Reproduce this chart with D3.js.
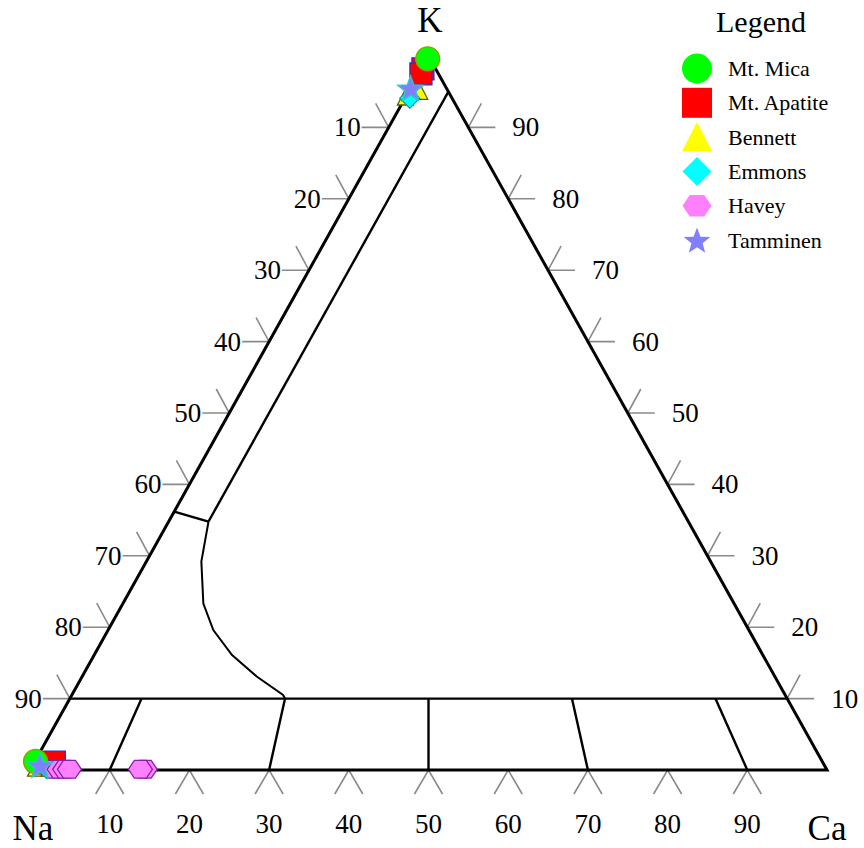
<html><head>
<title>Feldspar ternary - K Na Ca</title>
<script src="https://d3js.org/d3.v7.min.js"></script>
<style>
  body { margin: 0; background: #fff; }
  text { font-family: "Liberation Serif", "Times New Roman", serif; fill: #000; }
  .tick-line { stroke: #8a8a8a; stroke-width: 1.6px; fill: none; }
  .frame { stroke: #000; stroke-width: 3px; fill: none; }
  .field { stroke: #000; stroke-width: 2.4px; fill: none; }
</style>
</head>
<body>
<svg id="ternary" width="864" height="848"></svg>

<script>

  // ---- data (percent Na, K, Ca) ----
  const seriesNames = ["Mt. Mica", "Mt. Apatite", "Bennett", "Emmons", "Havey", "Tamminen"];
  const seriesFill = ["#00ff00", "#ff0000", "#ffff00", "#00ffff", "#ff80ff", "#8080ff"];
  const seriesStroke = ["#9a9a00", "#3030c0", "#5a5a00", "#00a0a0", "#8a20a8", "#30c8c8"];
  const seriesShape = ["circle", "square", "triangle", "diamond", "hexagon", "star"];

  // [Na, K, Ca]
  const mtMica = [[0.3, 99.6, 0.1], [98.7, 1.2, 0.1]];
  const mtApatite = [[1.6, 98.2, 0.2], [2.2, 97.5, 0.3], [97.6, 1.0, 1.4], [96.4, 1.1, 2.5]];
  const bennett = [[3.6, 95.0, 1.4], [5.8, 94.2, 0.0], [99.2, 0.2, 0.6], [97.5, 0.2, 2.3], [96.0, 0.1, 3.9]];
  const emmons = [[5.3, 94.1, 0.6], [97.8, 0.2, 2.0]];
  const havey = [[96.9, 0.1, 3.0], [96.3, 0.1, 3.6], [95.6, 0.1, 4.3], [85.5, 0.1, 14.4], [95.0, 0.1, 4.9], [86.1, 0.1, 13.8]];
  const tamminen = [[4.5, 95.5, 0.0], [98.4, 0.7, 0.9]];

  // drawing order (back to front) : index into the series arrays
  const seriesPoints = [mtMica, mtApatite, bennett, emmons, havey, tamminen];
  const drawOrder = [2, 3, 1, 4, 0, 5];

  // tick labels
  const tickValues = [10, 20, 30, 40, 50, 60, 70, 80, 90];
  const plagDivisions = [10, 30, 50, 70, 90];   // An content of plagioclase field lines

  // boundary of the alkali feldspar field  [Ca, K]
  const solvusLine = [[5, 95], [5, 34.8]];
  const solvusCap = [[0, 36.2], [5, 34.8]];
  const solvusCurve = [[5.0, 34.8], [6.9, 29.2], [10.1, 23.3], [13.2, 19.6], [17.3, 16.1], [21.9, 13.1], [26.5, 10.5], [27.0, 10.0]];


  // ---- svg and scales ----
  const svg = d3.select("svg#ternary");

  // x runs along the base (Ca + K/2), y follows K
  const xScale = d3.scaleLinear().domain([0, 100]).range([30, 827]);
  const yScale = d3.scaleLinear().domain([0, 100]).range([770, 56]);

  // ternary -> screen
  const px = (ca, k) => xScale(ca + k / 2);
  const py = (k) => yScale(k);

  const line = d3.line().x(d => px(d[0], d[1])).y(d => py(d[1]));


  // ---- ticks (grey) ----
  let ticks = svg.append("g");

  tickValues.forEach(v => {
    // left edge (Ca = 0), label v at K = 100 - v
    let kl = 100 - v;
    let xl = px(0, kl), yl = py(kl);
    ticks.append("path").attr("class", "tick-line")
      .attr("d", "M" + (xl - 27) + "," + yl + "L" + xl + "," + yl + "L" + (xl - 13) + "," + (yl - 24));
    ticks.append("text")
      .attr("x", xl - 28).attr("y", yl + 9)
      .attr("text-anchor", "end")
      .style("font-size", "27px")
      .text(v);

    // right edge (Na = 0), label v at K = v
    let xr = px(100 - v, v), yr = py(v);
    ticks.append("path").attr("class", "tick-line")
      .attr("d", "M" + (xr + 27) + "," + yr + "L" + xr + "," + yr + "L" + (xr + 13) + "," + (yr - 24));
    ticks.append("text")
      .attr("x", xr + 44).attr("y", yr + 9)
      .style("font-size", "27px")
      .text(v);

    // base (K = 0), label v at Ca = v
    let xb = px(v, 0), yb = py(0);
    ticks.append("path").attr("class", "tick-line")
      .attr("d", "M" + (xb - 14) + "," + (yb + 24) + "L" + xb + "," + yb + "L" + (xb + 14) + "," + (yb + 24));
    ticks.append("text")
      .attr("x", xb).attr("y", yb + 63)
      .attr("text-anchor", "middle")
      .style("font-size", "27px")
      .text(v);
  });


  // ---- triangle and field boundaries ----
  let fields = svg.append("g");

  // K = 10 line across
  fields.append("path").attr("class", "field")
    .attr("d", line([[0, 10], [90, 10]]));

  // plagioclase divisions : constant An/(An+Ab) from base up to K = 10
  plagDivisions.forEach(v => {
    fields.append("path").attr("class", "field")
      .attr("d", line([[v, 0], [v * 0.9, 10]]));
  });

  fields.append("path").attr("class", "field").attr("d", line(solvusLine));
  fields.append("path").attr("class", "field").attr("d", line(solvusCap));
  fields.append("path").attr("class", "field").style("stroke-width", "2px").attr("d", line(solvusCurve));

  svg.append("path").attr("class", "frame")
    .attr("stroke-linejoin", "miter")
    .attr("d", line([[0, 0], [100, 0], [0, 100]]) + "Z");


  // ---- corner labels ----
  svg.append("text").attr("x", 430).attr("y", 32).attr("text-anchor", "middle")
    .style("font-size", "35px").text("K");
  svg.append("text").attr("x", 33).attr("y", 840).attr("text-anchor", "middle")
    .style("font-size", "35px").text("Na");
  svg.append("text").attr("x", 827).attr("y", 840).attr("text-anchor", "middle")
    .style("font-size", "35px").text("Ca");


  // ---- marker shapes (size = half width) ----
  const shapes = {
    circle: { draw(c, r) { c.moveTo(r, 0); c.arc(0, 0, r, 0, 2 * Math.PI); } },
    square: { draw(c, r) { c.rect(-r, -r, 2 * r, 2 * r); } },
    triangle: { draw(c, r) { c.moveTo(0, -r); c.lineTo(r, r * 0.95); c.lineTo(-r, r * 0.95); c.closePath(); } },
    diamond: { draw(c, r) { c.moveTo(0, -r); c.lineTo(r, 0); c.lineTo(0, r); c.lineTo(-r, 0); c.closePath(); } },
    hexagon: { draw(c, r) {
      for (let i = 0; i < 6; i++) {
        let a = i * Math.PI / 3;
        if (i == 0) c.moveTo(r * Math.cos(a), r * Math.sin(a) * 0.86);
        else c.lineTo(r * Math.cos(a), r * Math.sin(a) * 0.86);
      }
      c.closePath();
    } },
    star: { draw(c, r) {
      for (let i = 0; i < 10; i++) {
        let a = -Math.PI / 2 + i * Math.PI / 5;
        let rr = (i % 2 == 0) ? r : r * 0.42;
        if (i == 0) c.moveTo(rr * Math.cos(a), rr * Math.sin(a) + r * 0.1);
        else c.lineTo(rr * Math.cos(a), rr * Math.sin(a) + r * 0.1);
      }
      c.closePath();
    } }
  };
  const chartSize = { circle: 12, square: 11, triangle: 8, diamond: 10, hexagon: 12, star: 13.5 };
  const legendSize = { circle: 15, square: 15, triangle: 15, diamond: 14.5, hexagon: 14.5, star: 14 };


  // ---- points ----
  let points = svg.append("g");
  drawOrder.forEach(s => {
    let shape = seriesShape[s];
    let sym = d3.symbol().type(shapes[shape]).size(chartSize[shape]);
    seriesPoints[s].forEach(d => {
      points.append("path")
        .attr("d", sym())
        .attr("transform", "translate(" + px(d[2], d[1]) + "," + py(d[1]) + ")")
        .style("fill", seriesFill[s])
        .style("stroke", seriesStroke[s])
        .style("stroke-width", "1.3px");
    });
  });


  // ---- legend ----
  let legend = svg.append("g");
  legend.append("text").attr("x", 761).attr("y", 32).attr("text-anchor", "middle")
    .style("font-size", "30px").text("Legend");

  seriesNames.forEach((name, i) => {
    let base = 76 + i * 34.3;
    let shape = seriesShape[i];
    let sym = d3.symbol().type(shapes[shape]).size(legendSize[shape]);
    legend.append("path")
      .attr("d", sym())
      .attr("transform", "translate(697," + (base - 7.5) + ")")
      .style("fill", seriesFill[i]);
    legend.append("text")
      .attr("x", 728).attr("y", base)
      .style("font-size", "22px")
      .text(name);
  });

</script>
</body>
</html>
